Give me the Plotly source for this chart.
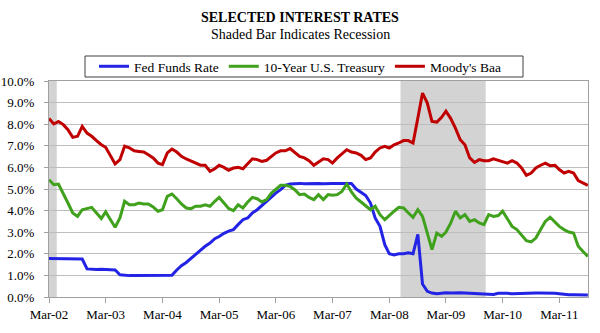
import pandas as pd
import plotly.graph_objects as go

# ---- data (monthly) ----
months = pd.date_range("2002-03-01", periods=115, freq="MS")

fed_funds = [
    1.78, 1.78, 1.77, 1.78, 1.77, 1.76, 1.78, 1.76,
    1.30, 1.28, 1.27, 1.28, 1.27, 1.28, 1.25,
    1.03, 1.00, 0.99, 1.00, 1.00, 1.00, 0.99, 1.00, 1.00, 0.99, 1.00, 1.01,
    1.25, 1.45, 1.60, 1.80, 2.00, 2.20, 2.35, 2.50, 2.70, 2.80, 2.95, 3.05,
    3.12, 3.35, 3.58, 3.66, 3.89, 4.04, 4.24, 4.46, 4.66, 4.81, 4.97, 5.17, 5.23,
    5.25, 5.26, 5.24, 5.25, 5.26, 5.25, 5.24, 5.26, 5.25, 5.26, 5.25, 5.24, 5.25,
    5.00, 4.85, 4.70, 4.35, 3.66, 3.27, 2.42, 2.00, 1.95, 2.00, 2.00, 2.05,
    2.00, 2.90, 0.60, 0.26,
    0.18, 0.15, 0.17, 0.20, 0.18, 0.20, 0.20, 0.19, 0.18, 0.16, 0.15, 0.13, 0.13, 0.12,
    0.17, 0.18, 0.17, 0.15, 0.16, 0.19, 0.20, 0.20, 0.19, 0.19, 0.19, 0.18, 0.17, 0.15,
    0.12, 0.10, 0.10, 0.10, 0.09, 0.09,
]

treasury_10y = [
    5.43, 5.20, 5.23, 4.81, 4.35, 3.89, 3.73, 4.04, 4.09, 4.15, 3.89, 3.63, 3.94, 3.58,
    3.23, 3.66, 4.43, 4.27, 4.27, 4.35,
    4.31, 4.31, 4.17, 3.97, 4.04, 4.66, 4.77, 4.55, 4.31, 4.12, 4.09, 4.20, 4.20, 4.27,
    4.20, 4.43, 4.61, 4.35, 4.10,
    4.00, 4.27, 4.12, 4.40, 4.61, 4.55, 4.40, 4.51, 4.81, 4.97, 5.17, 5.17, 5.12, 4.97,
    4.74, 4.77, 4.61, 4.51, 4.74,
    4.51, 4.74, 4.71, 4.74, 4.89, 5.23, 4.86, 4.58, 4.40, 4.20, 4.04, 4.20, 3.81, 3.58,
    3.78, 3.97, 4.15, 4.12, 3.90,
    3.69, 4.04, 3.73, 2.96, 2.19, 2.96, 2.81, 3.01, 3.43, 3.97, 3.66, 3.81, 3.50, 3.58,
    3.43, 3.35, 3.81, 3.73, 3.77,
    3.97, 3.58, 3.27, 3.12, 2.89, 2.61, 2.55, 2.73, 3.12, 3.50, 3.69, 3.47, 3.27, 3.12,
    3.01, 2.96, 2.35, 2.11, 1.88,
]

moodys_baa = [
    8.26, 8.01, 8.13, 7.98, 7.75, 7.39, 7.44, 7.90, 7.59, 7.44, 7.24, 7.05, 6.93, 6.51,
    6.16, 6.36, 6.98, 6.90, 6.77, 6.74,
    6.71, 6.59, 6.44, 6.20, 6.13, 6.67, 6.85, 6.71, 6.51, 6.39, 6.28, 6.20, 6.10, 6.10,
    5.82, 5.94, 6.10, 6.00, 5.87,
    5.97, 6.00, 5.94, 6.20, 6.40, 6.36, 6.28, 6.33, 6.51, 6.67, 6.77, 6.77, 6.87, 6.71,
    6.51, 6.44, 6.31, 6.10, 6.26,
    6.40, 6.36, 6.20, 6.44, 6.62, 6.82, 6.71, 6.67, 6.56, 6.36, 6.44, 6.71, 6.90, 6.98,
    6.90, 7.05, 7.13, 7.24, 7.24,
    7.13, 8.29, 9.44, 8.98, 8.13, 8.10, 8.32, 8.60, 8.26, 7.82, 7.28, 7.05, 6.44, 6.23,
    6.36, 6.31, 6.31, 6.40, 6.32,
    6.28, 6.20, 6.31, 6.20, 5.97, 5.63, 5.74, 5.97, 6.10, 6.20, 6.08, 6.10, 5.90, 5.74,
    5.82, 5.74, 5.39, 5.28, 5.17,
]

series_names = ["Fed Funds Rate", "10-Year U.S. Treasury", "Moody's Baa"]
series_colors = ["#2323E6", "#3FA11C", "#C00000"]

recession_start = ["2002-03-01", "2008-05-12"]
recession_end = ["2002-04-20", "2009-11-12"]

tick_dates = [f"{y}-03-01" for y in range(2002, 2012)]
tick_labels = [f"Mar-{str(y)[2:]}" for y in range(2002, 2012)]

FONT = "Liberation Serif"

# plot-area pixel geometry (for paper-coordinate placement of titles/legend)
L, R, T, B = 49, 588, 81, 297
def px(x):
    return (x - L) / (R - L)
def py(y):
    return (B - y) / (B - T)

fig = go.Figure()
for name, vals, col in zip(series_names, [fed_funds, treasury_10y, moodys_baa], series_colors):
    fig.add_trace(go.Scatter(x=months, y=vals, mode="lines", name=name,
                             line=dict(color=col, width=3)))

for s, e in zip(recession_start, recession_end):
    fig.add_shape(type="rect", xref="x", yref="y", x0=s, x1=e, y0=0, y1=10,
                  fillcolor="#D3D3D3", line=dict(width=0), layer="below")

# legend frame
fig.add_shape(type="rect", xref="paper", yref="paper",
              x0=px(85), x1=px(523), y0=py(77), y1=py(56),
              line=dict(color="#404040", width=1), fillcolor="white", layer="below")

fig.add_annotation(text="<b>SELECTED INTEREST RATES</b>", xref="paper", yref="paper",
                   x=px(300), y=py(17), xanchor="center", yanchor="middle", showarrow=False,
                   font=dict(family=FONT, size=14, color="black"))
fig.add_annotation(text="Shaded Bar Indicates Recession", xref="paper", yref="paper",
                   x=px(300), y=py(35), xanchor="center", yanchor="middle", showarrow=False,
                   font=dict(family=FONT, size=14, color="black"))

fig.update_layout(
    width=600, height=333,
    margin=dict(l=L, r=600 - R, t=T, b=333 - B, autoexpand=False),
    paper_bgcolor="white", plot_bgcolor="white",
    font=dict(family=FONT, size=13, color="black"),
    showlegend=True,
    legend=dict(orientation="h", x=px(300), xanchor="center",
                y=py(66.5), yanchor="middle",
                borderwidth=0, bgcolor="rgba(0,0,0,0)",
                font=dict(family=FONT, size=13.5, color="black"),
                itemwidth=30, tracegroupgap=0),
    xaxis=dict(type="date", range=["2002-03-01", "2011-09-02"],
               tickvals=tick_dates, ticktext=tick_labels, automargin=False,
               showgrid=False, showline=True, linecolor="#A0A0A0", mirror=True,
               ticks="outside", ticklen=5, tickcolor="#A0A0A0",
               ticklabelstandoff=0,
               tickfont=dict(family=FONT, size=13, color="black")),
    yaxis=dict(range=[0, 10], dtick=1, tickformat=".1f", ticksuffix="%",
               showgrid=True, gridcolor="#BDBDBD", gridwidth=1, automargin=False,
               showline=True, linecolor="#A0A0A0", mirror=True,
               ticks="outside", ticklen=4, tickcolor="#A0A0A0",
               zeroline=False, ticklabelstandoff=7,
               tickfont=dict(family=FONT, size=13, color="black")),
)

fig.write_html("out.html", config={"displayModeBar": False})
